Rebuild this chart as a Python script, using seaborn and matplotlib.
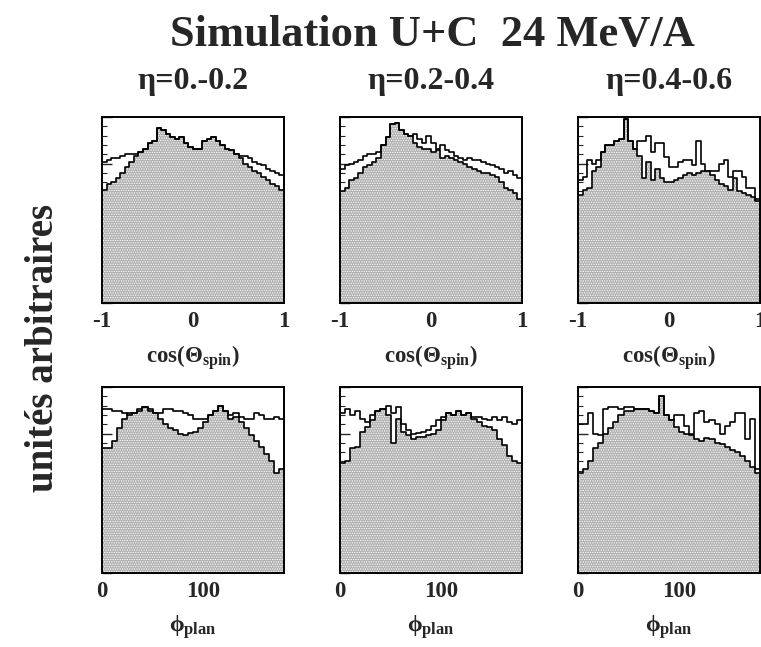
import numpy as np
import pandas as pd
import matplotlib
matplotlib.use('Agg')
import matplotlib.pyplot as plt
import seaborn as sns
from matplotlib.ticker import MultipleLocator, NullFormatter

# histogram heights (arbitrary units)
# top row: cos(theta_spin), 40 bins from -1 to 1
cos_filled_eta1 = [0.61, 0.64, 0.65, 0.67, 0.70, 0.73, 0.76, 0.79, 0.81, 0.83, 0.86, 0.87, 0.94, 0.93, 0.91, 0.89, 0.88, 0.89, 0.86, 0.84,
                   0.83, 0.83, 0.87, 0.88, 0.89, 0.87, 0.85, 0.83, 0.82, 0.80, 0.78, 0.75, 0.73, 0.71, 0.70, 0.68, 0.66, 0.64, 0.63, 0.61]
cos_open_eta1 = [0.76, 0.77, 0.78, 0.78, 0.79, 0.80, 0.80, 0.80, 0.81, 0.83, 0.86, 0.87, 0.94, 0.93, 0.91, 0.89, 0.88, 0.89, 0.86, 0.84,
                 0.83, 0.83, 0.87, 0.88, 0.89, 0.87, 0.85, 0.83, 0.82, 0.80, 0.79, 0.79, 0.78, 0.76, 0.75, 0.74, 0.72, 0.71, 0.70, 0.69]
cos_filled_eta2 = [0.60, 0.62, 0.66, 0.67, 0.70, 0.73, 0.74, 0.76, 0.78, 0.85, 0.89, 0.96, 0.97, 0.93, 0.91, 0.90, 0.86, 0.84, 0.83, 0.83,
                   0.81, 0.82, 0.78, 0.79, 0.78, 0.77, 0.76, 0.75, 0.73, 0.72, 0.71, 0.70, 0.70, 0.69, 0.68, 0.65, 0.62, 0.61, 0.59, 0.56]
cos_open_eta2 = [0.72, 0.74, 0.75, 0.76, 0.77, 0.79, 0.80, 0.80, 0.81, 0.85, 0.89, 0.96, 0.97, 0.93, 0.91, 0.90, 0.91, 0.88, 0.86, 0.90,
                 0.86, 0.83, 0.85, 0.82, 0.81, 0.79, 0.78, 0.77, 0.78, 0.77, 0.77, 0.76, 0.75, 0.74, 0.73, 0.72, 0.70, 0.71, 0.69, 0.67]
cos_filled_eta3 = [0.58, 0.61, 0.62, 0.71, 0.73, 0.81, 0.85, 0.85, 0.87, 0.88, 0.99, 0.87, 0.83, 0.79, 0.67, 0.76, 0.66, 0.72, 0.67, 0.65,
                   0.65, 0.66, 0.67, 0.69, 0.70, 0.69, 0.70, 0.71, 0.71, 0.69, 0.66, 0.64, 0.63, 0.61, 0.67, 0.60, 0.59, 0.58, 0.57, 0.55]
cos_open_eta3 = [0.66, 0.68, 0.77, 0.75, 0.77, 0.81, 0.85, 0.85, 0.87, 0.88, 0.99, 0.87, 0.83, 0.87, 0.87, 0.90, 0.81, 0.86, 0.86, 0.785,
                 0.73, 0.73, 0.76, 0.77, 0.77, 0.74, 0.87, 0.75, 0.71, 0.71, 0.71, 0.75, 0.77, 0.68, 0.71, 0.71, 0.68, 0.62, 0.62, 0.56]

# bottom row: phi_plan, 36 bins from 0 to 180
phi_filled_eta1 = [0.67, 0.67, 0.71, 0.78, 0.83, 0.86, 0.86, 0.87, 0.89, 0.87, 0.86, 0.83, 0.80, 0.78, 0.77, 0.75, 0.74, 0.755,
                   0.76, 0.78, 0.81, 0.85, 0.87, 0.90, 0.87, 0.83, 0.84, 0.81, 0.78, 0.74, 0.71, 0.68, 0.64, 0.60, 0.54, 0.56]
phi_open_eta1 = [0.88, 0.88, 0.87, 0.87, 0.86, 0.85, 0.86, 0.88, 0.89, 0.88, 0.86, 0.86, 0.88, 0.88, 0.87, 0.87, 0.86, 0.85,
                 0.83, 0.83, 0.83, 0.85, 0.87, 0.90, 0.87, 0.85, 0.86, 0.84, 0.83, 0.83, 0.86, 0.85, 0.83, 0.83, 0.84, 0.83]
phi_filled_eta2 = [0.59, 0.60, 0.67, 0.68, 0.76, 0.785, 0.82, 0.87, 0.88, 0.85, 0.70, 0.83, 0.76, 0.74, 0.72, 0.73, 0.73, 0.74,
                   0.75, 0.77, 0.82, 0.86, 0.85, 0.87, 0.85, 0.86, 0.83, 0.81, 0.79, 0.785, 0.77, 0.72, 0.69, 0.63, 0.60, 0.59]
phi_open_eta2 = [0.86, 0.88, 0.85, 0.87, 0.83, 0.81, 0.85, 0.87, 0.88, 0.90, 0.86, 0.89, 0.80, 0.77, 0.75, 0.755, 0.76, 0.77,
                 0.79, 0.82, 0.84, 0.86, 0.85, 0.87, 0.85, 0.86, 0.84, 0.84, 0.83, 0.82, 0.84, 0.82, 0.84, 0.81, 0.80, 0.82]
phi_filled_eta3 = [0.54, 0.56, 0.60, 0.67, 0.70, 0.75, 0.78, 0.81, 0.85, 0.87, 0.87, 0.88, 0.88, 0.88, 0.87, 0.86, 0.95, 0.85,
                   0.82, 0.785, 0.76, 0.745, 0.74, 0.72, 0.71, 0.725, 0.72, 0.70, 0.695, 0.68, 0.66, 0.65, 0.63, 0.60, 0.57, 0.54]
phi_open_eta3 = [0.80, 0.80, 0.86, 0.75, 0.74, 0.88, 0.89, 0.89, 0.88, 0.89, 0.89, 0.88, 0.88, 0.88, 0.87, 0.86, 0.95, 0.85,
                 0.82, 0.85, 0.85, 0.79, 0.75, 0.86, 0.87, 0.81, 0.82, 0.80, 0.75, 0.79, 0.81, 0.86, 0.86, 0.72, 0.83, 0.56]

eta_labels = ['η=0.-0.2', 'η=0.2-0.4', 'η=0.4-0.6']
cos_edges = np.linspace(-1, 1, 41)
phi_edges = np.linspace(0, 180, 37)

sns.set_theme(style='ticks')
plt.rcParams['font.family'] = ['Liberation Serif', 'DejaVu Serif']
plt.rcParams['font.weight'] = 'bold'
plt.rcParams['mathtext.fontset'] = 'custom'
plt.rcParams['mathtext.rm'] = 'Liberation Serif:bold'
plt.rcParams['mathtext.it'] = 'Liberation Serif:bold'
plt.rcParams['mathtext.bf'] = 'Liberation Serif:bold'
plt.rcParams['axes.unicode_minus'] = False
plt.rcParams['hatch.color'] = '#1e1e1e'
plt.rcParams['hatch.linewidth'] = 0.6


def draw_panel(ax, edges, filled, open_, xlim):
    centers = (edges[:-1] + edges[1:]) / 2
    df = pd.DataFrame({'x': centers, 'filled': filled, 'open': open_})
    bins = list(edges)
    # stippled histogram
    sns.histplot(data=df, x='x', weights='filled', bins=bins, element='step', fill=True,
                 facecolor='#b0b0b0', edgecolor='none', linewidth=0, hatch='.......',
                 alpha=1, ax=ax)
    sns.histplot(data=df, x='x', weights='filled', bins=bins, element='step', fill=False,
                 color='black', linewidth=1.2, ax=ax)
    sns.histplot(data=df, x='x', weights='open', bins=bins, element='step', fill=False,
                 color='black', linewidth=1.2, ax=ax)
    ax.set_xlim(*xlim)
    ax.set_ylim(0, 1)
    ax.set_ylabel('')
    ax.yaxis.set_major_locator(MultipleLocator(0.25))
    ax.yaxis.set_minor_locator(MultipleLocator(0.05))
    ax.yaxis.set_major_formatter(NullFormatter())
    ax.tick_params(axis='both', which='both', direction='in', top=False, right=False)
    ax.tick_params(axis='y', which='major', length=7, width=1)
    ax.tick_params(axis='y', which='minor', length=3.5, width=0.8)
    ax.tick_params(axis='x', which='major', length=8, width=1.2, labelsize=16.5, pad=6)
    ax.tick_params(axis='x', which='minor', length=4, width=1)
    for sp in ax.spines.values():
        sp.set_linewidth(1.4)
        sp.set_color('black')


fig = plt.figure(figsize=(7.61, 6.47), dpi=100)
W, H = 761, 647
lefts = [102, 340, 578]
pw, ph = 182, 186

top_data = [(cos_filled_eta1, cos_open_eta1), (cos_filled_eta2, cos_open_eta2), (cos_filled_eta3, cos_open_eta3)]
bot_data = [(phi_filled_eta1, phi_open_eta1), (phi_filled_eta2, phi_open_eta2), (phi_filled_eta3, phi_open_eta3)]

for i, left in enumerate(lefts):
    ax = fig.add_axes([left / W, 1 - 303 / H, pw / W, ph / H])
    draw_panel(ax, cos_edges, top_data[i][0], top_data[i][1], (-1, 1))
    ax.xaxis.set_major_locator(MultipleLocator(1))
    ax.xaxis.set_minor_locator(MultipleLocator(0.25))
    ax.set_xlabel(r'cos($\Theta_{\rm spin}$)', fontsize=16.5, fontweight='bold', labelpad=8)
    ax.set_title(eta_labels[i], fontsize=23, fontweight='bold', pad=20)

    ax = fig.add_axes([left / W, 1 - 573 / H, pw / W, ph / H])
    draw_panel(ax, phi_edges, bot_data[i][0], bot_data[i][1], (0, 180))
    ax.xaxis.set_major_locator(MultipleLocator(100))
    ax.xaxis.set_minor_locator(MultipleLocator(25))
    ax.set_xlabel(r'$\phi_{\rm plan}$', fontsize=17, fontweight='bold', labelpad=8)

fig.text(432 / W, 1 - 35 / H, 'Simulation U+C  24 MeV/A', ha='center', va='center',
         fontsize=32, fontweight='bold')
fig.text(44 / W, 1 - 348 / H, 'unités arbitraires', ha='center', va='center',
         rotation=90, fontsize=28, fontweight='bold')

fig.savefig('out.png', dpi=100)
